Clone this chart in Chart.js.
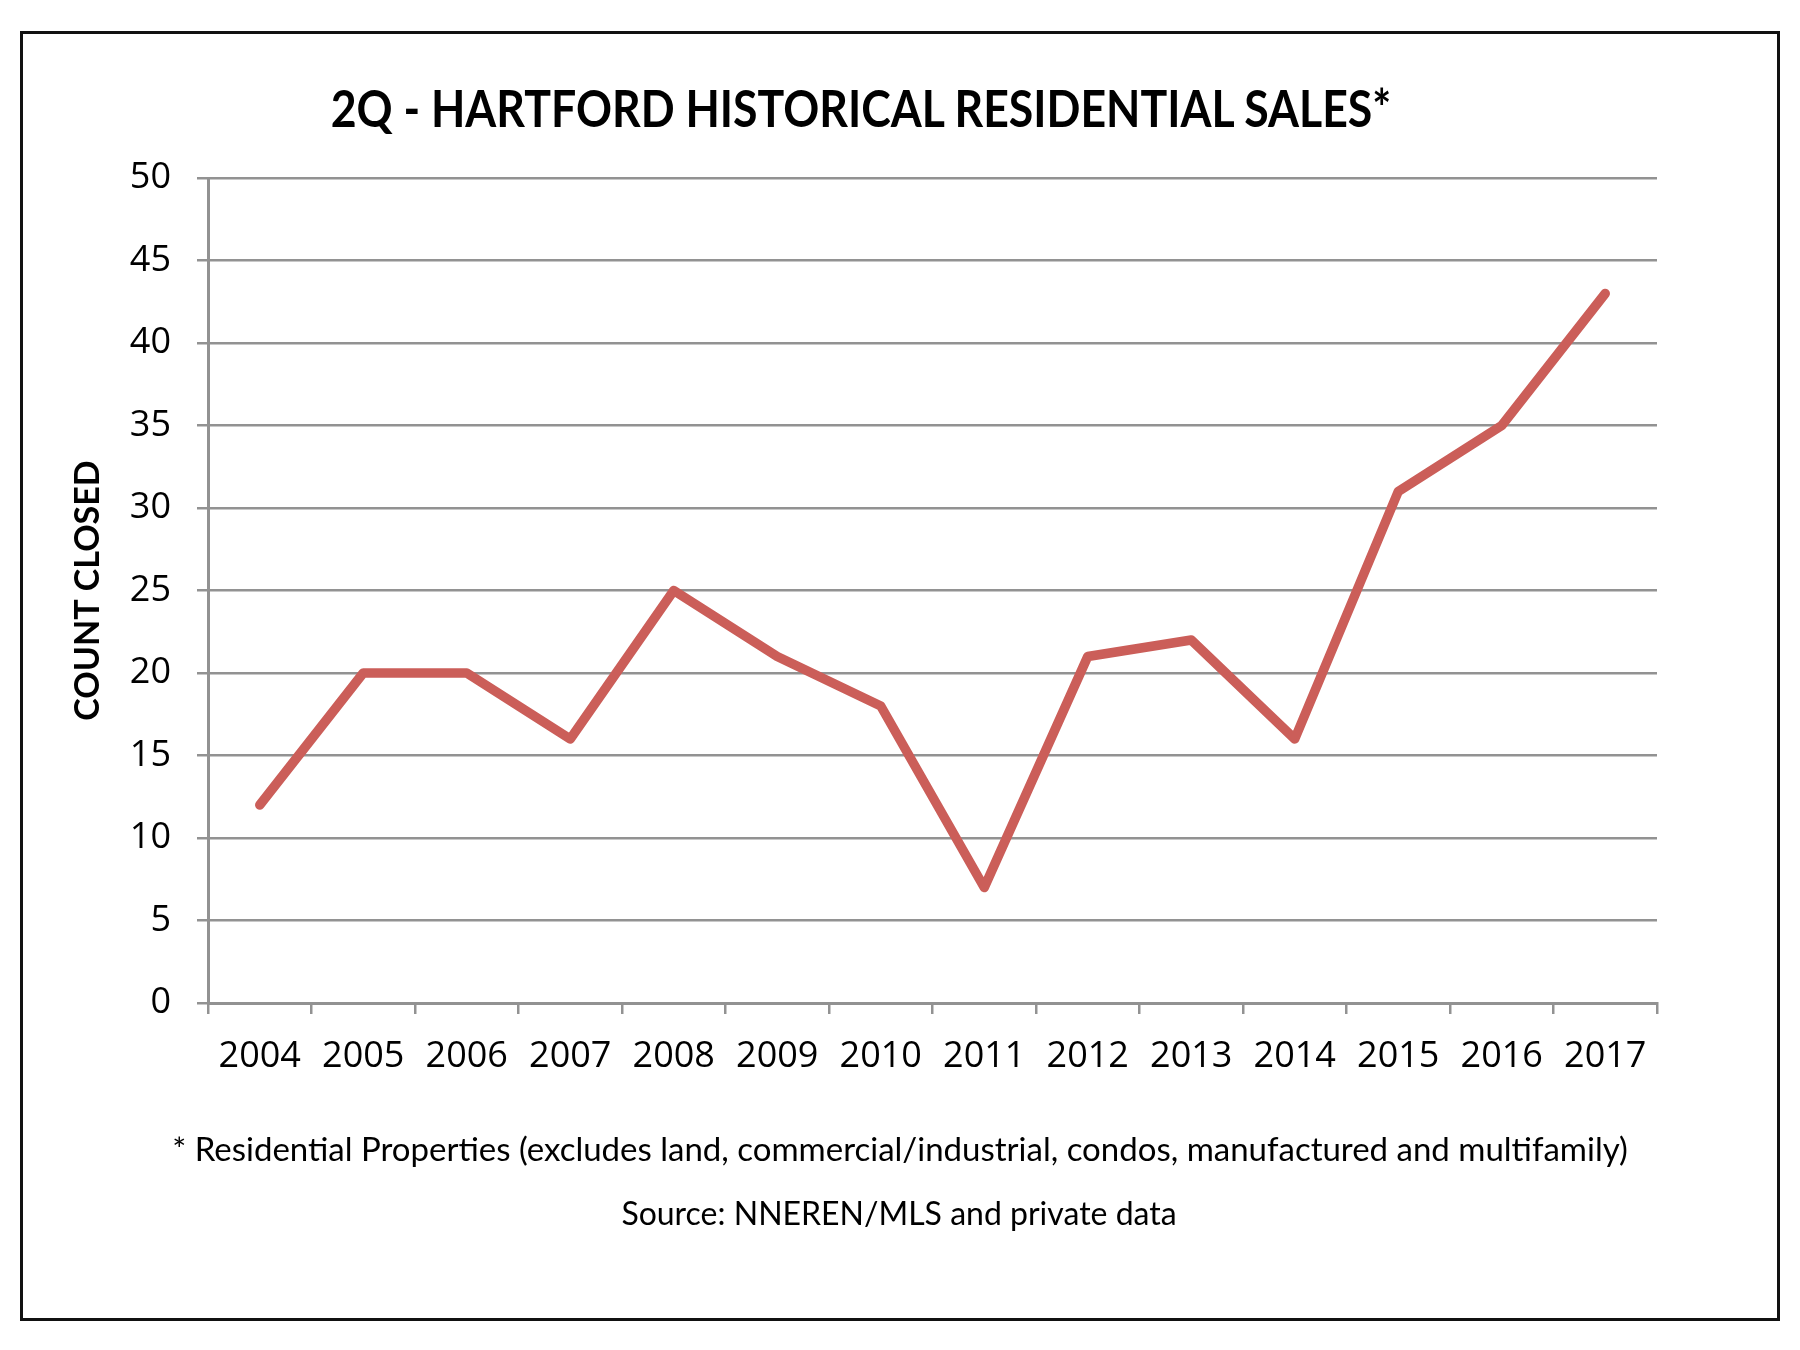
<!DOCTYPE html>
<html>
<head>
<meta charset="utf-8">
<script src="https://cdn.jsdelivr.net/npm/chart.js@4.4.1/dist/chart.umd.min.js"></script>
<style>
  html, body { margin: 0; padding: 0; background: #fff; }
  #wrap { position: relative; width: 1800px; height: 1350px; overflow: hidden; }
  #frame {
    position: absolute; left: 20px; top: 31px; width: 1754px; height: 1284px;
    border: 3px solid #111;
  }
  canvas { position: absolute; left: 0; top: 0; }
  .txt { position: absolute; white-space: nowrap; color: #000; transform-origin: center center; }
  #title { font: bold 51px Lato, "Open Sans", sans-serif; left: 861px; top: 107px; transform: translate(-50%, -50%) scaleX(0.875); }
  #note { font: 33px Lato, "Open Sans", sans-serif; left: 900px; top: 1148px; transform: translate(-50%, -50%); }
  #source { font: 32px Lato, "Open Sans", sans-serif; left: 899px; top: 1212px; transform: translate(-50%, -50%); }
</style>
</head>
<body>
<div id="wrap">
  <div id="frame"></div>
  <canvas id="salesChart" width="1800" height="1350"></canvas>
  <div class="txt" id="title">2Q - HARTFORD HISTORICAL RESIDENTIAL SALES*</div>
  <div class="txt" id="note">* Residential Properties (excludes land, commercial/industrial, condos, manufactured and multifamily)</div>
  <div class="txt" id="source">Source: NNEREN/MLS and private data</div>
</div>
<script>
/* ================================
   Data
================================ */
const years = ["2004", "2005", "2006", "2007", "2008", "2009", "2010",
               "2011", "2012", "2013", "2014", "2015", "2016", "2017"];
const countClosed = [12, 20, 20, 16, 25, 21, 18, 7, 21, 22, 16, 31, 35, 43];
const yTicks = [0, 5, 10, 15, 20, 25, 30, 35, 40, 45, 50];

const GRID = "#929292";
const LINE = "#CB5E59";

/* ================================
   Chart
================================ */
new Chart(document.getElementById("salesChart"), {
  type: "line",
  data: {
    labels: years,
    datasets: [
      {
        label: "Count closed",
        data: countClosed,
        borderColor: LINE,
        borderWidth: 9.5,
        borderCapStyle: "round",
        borderJoinStyle: "round",
        pointRadius: 0,
        tension: 0
      }
    ]
  },
  options: {
    responsive: false,
    animation: false,
    layout: {
      padding: { left: 0, right: 143, top: 178, bottom: 267 }
    },
    plugins: {
      legend: { display: false },
      tooltip: { enabled: false }
    },
    scales: {
      x: {
        type: "category",
        offset: true,
        grid: {
          display: true,
          offset: true,
          drawOnChartArea: false,
          drawTicks: true,
          tickLength: 11,
          color: GRID,
          lineWidth: 2.5
        },
        border: { display: true, color: GRID, width: 3 },
        ticks: {
          color: "#000",
          padding: 21,
          maxRotation: 0,
          autoSkip: false,
          font: { family: "'Open Sans'", size: 36 }
        },
        afterFit: scale => { scale.height = 80; }
      },
      y: {
        min: 0,
        max: 50,
        afterBuildTicks: scale => {
          scale.ticks = yTicks.map(v => ({ value: v }));
        },
        grid: {
          color: GRID,
          lineWidth: 2.5,
          tickLength: 11
        },
        border: { display: true, color: GRID, width: 3 },
        ticks: {
          color: "#000",
          padding: 26,
          font: { family: "'Open Sans'", size: 36 }
        },
        title: {
          display: true,
          text: "COUNT CLOSED",
          color: "#000",
          padding: { top: 68, bottom: 0 },
          font: { family: "Lato, 'Open Sans'", size: 34, weight: "bold" }
        },
        afterFit: scale => { scale.width = 208; }
      }
    }
  }
});
</script>
</body>
</html>
